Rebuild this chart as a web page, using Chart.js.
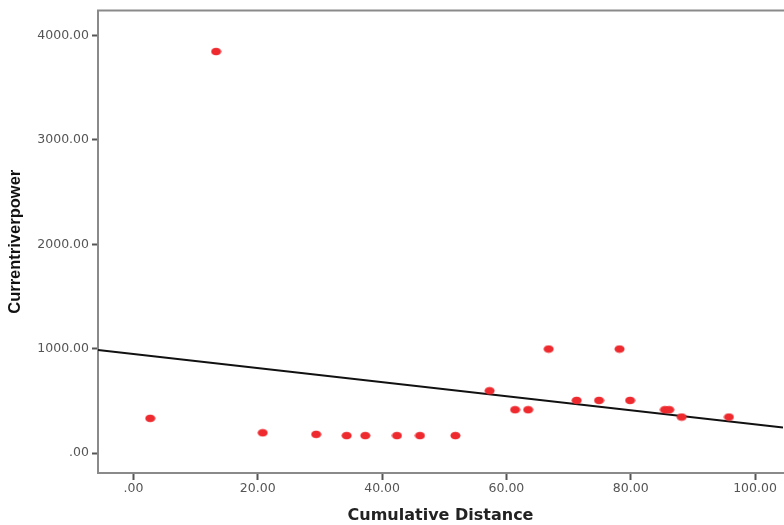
<!DOCTYPE html>
<html>
<head>
<meta charset="utf-8">
<script src="https://cdn.jsdelivr.net/npm/chart.js@4/dist/chart.umd.min.js"></script>
<style>
html,body{margin:0;padding:0;background:#fff;overflow:hidden;}
#wrap{width:784px;height:525px;position:relative;overflow:hidden;}
</style>
</head>
<body>
<div id="wrap"><canvas id="c" width="789" height="525"></canvas></div>
<script>
// Data
const distance = [2.7, 13.3, 20.8, 29.4, 34.3, 37.3, 42.4, 46.1, 51.8, 57.3, 61.4, 63.5, 66.8, 71.3, 74.9, 78.2, 79.9, 85.5, 86.2, 88.2, 95.8];
const power    = [333, 3845, 195, 180, 168, 168, 168, 168, 168, 597, 416, 416, 997, 505, 505, 997, 505, 416, 416, 346, 346];
// Fit line endpoints (read at plot edges)
const fitX = [-5.7, 104.5];
const fitY = [988, 245];
// Axis ticks
const xTicks = [0, 20, 40, 60, 80, 100];
const yTicks = [0, 1000, 2000, 3000, 4000];
const xRange = [-5.7, 104.5];
const yRange = [-190, 4238];

const fmt = v => {
  const s = Number(v).toFixed(2);
  return s.startsWith('0.') ? s.slice(1) : s;
};

// elliptical marker image
const dot = document.createElement('canvas');
dot.width = 11; dot.height = 9;
(() => {
  const g = dot.getContext('2d');
  g.fillStyle = '#ee2a2f';
  g.beginPath();
  g.ellipse(5.5, 4.5, 5, 3.8, 0, 0, Math.PI * 2);
  g.fill();
})();

const topBorder = {
  id: 'topBorder',
  afterDraw(chart) {
    const {ctx, chartArea} = chart;
    ctx.save();
    ctx.strokeStyle = '#8a8a8a';
    ctx.lineWidth = 2;
    ctx.beginPath();
    ctx.moveTo(chartArea.left - 1, chartArea.top);
    ctx.lineTo(chartArea.right + 10, chartArea.top);
    ctx.stroke();
    ctx.restore();
  }
};

new Chart(document.getElementById('c'), {
  type: 'scatter',
  data: {
    datasets: [
      {
        type: 'line',
        data: fitX.map((x, i) => ({x, y: fitY[i]})),
        borderColor: '#111',
        borderWidth: 2,
        pointRadius: 0,
        fill: false,
        order: 2
      },
      {
        data: distance.map((x, i) => ({x, y: power[i]})),
        pointStyle: dot,
        backgroundColor: '#ee2a2f',
        borderColor: '#ee2a2f',
        pointRadius: 5,
        order: 1
      }
    ]
  },
  plugins: [topBorder],
  options: {
    responsive: false,
    animation: false,
    layout: {padding: {top: 8, right: 0, left: 0, bottom: 0}},
    plugins: {legend: {display: false}, tooltip: {enabled: false}},
    scales: {
      x: {
        type: 'linear',
        min: xRange[0], max: xRange[1],
        afterBuildTicks: s => { s.ticks = xTicks.map(v => ({value: v})); },
        afterFit: s => { s.height = 52; },
        grid: {drawOnChartArea: false, tickLength: 7, tickColor: '#555', tickWidth: 2},
        border: {color: '#8a8a8a', width: 2},
        ticks: {color: '#555', font: {family: 'DejaVu Sans', size: 12.5}, padding: 1, maxRotation: 0, callback: v => fmt(v)},
        title: {display: true, text: 'Cumulative Distance', color: '#222', font: {family: 'DejaVu Sans', size: 16, weight: 'bold'}, padding: {top: 2, bottom: 0}}
      },
      y: {
        type: 'linear',
        min: yRange[0], max: yRange[1],
        afterBuildTicks: s => { s.ticks = yTicks.map(v => ({value: v})); },
        afterFit: s => { s.width = 98; },
        grid: {drawOnChartArea: false, tickLength: 6, tickColor: '#555', tickWidth: 2},
        border: {color: '#8a8a8a', width: 2},
        ticks: {color: '#555', font: {family: 'DejaVu Sans', size: 12.5}, padding: 3, callback: v => fmt(v)},
        title: {display: true, text: 'Currentriverpower', color: '#111', font: {family: 'Liberation Sans Narrow, Liberation Sans', size: 16.5, weight: 'bold'}, padding: {top: 6, bottom: 0}}
      }
    }
  }
});
</script>
</body>
</html>
